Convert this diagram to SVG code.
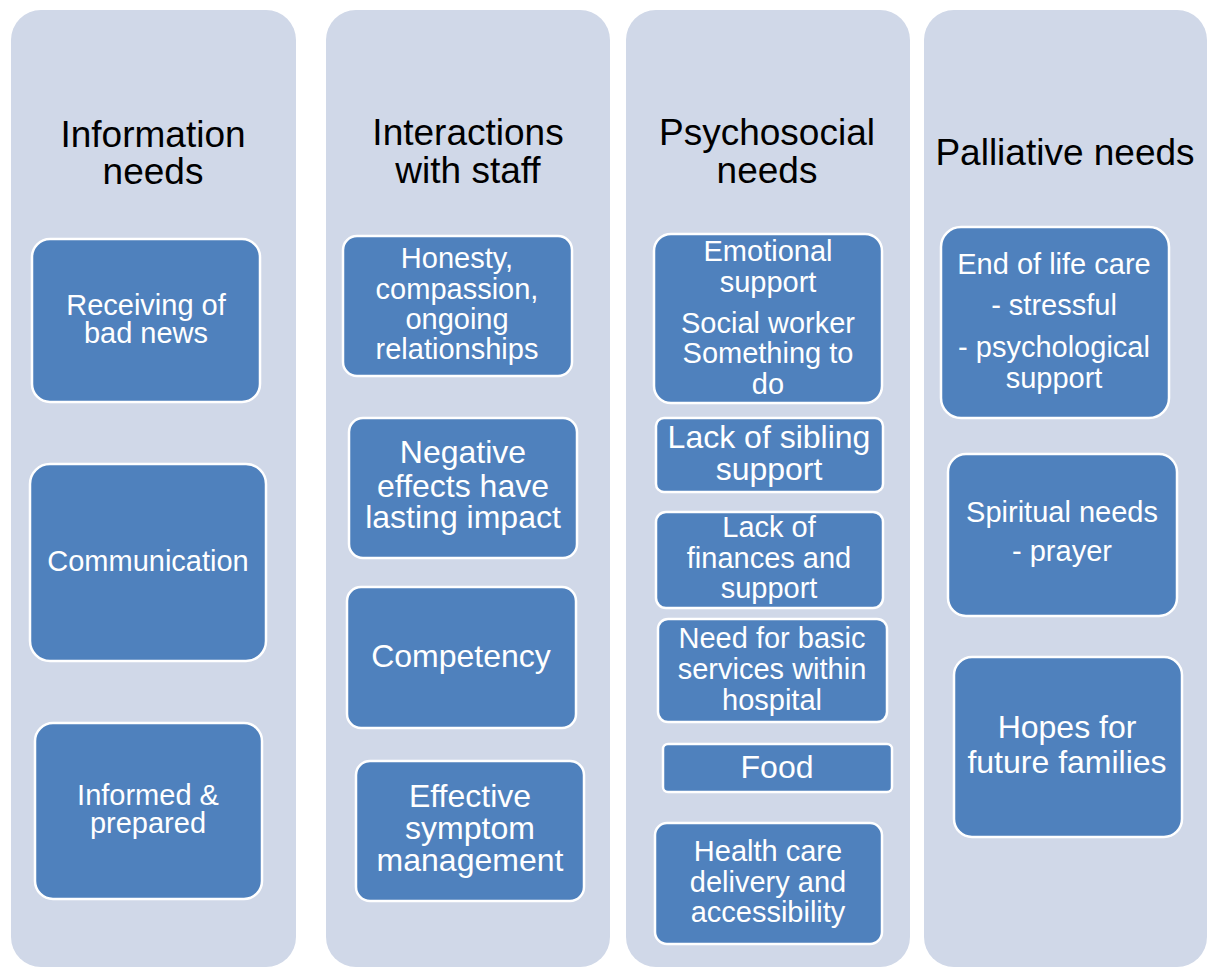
<svg xmlns="http://www.w3.org/2000/svg" width="1207" height="967" viewBox="0 0 1207 967">
<style>
.col{fill:#D0D8E8;}
.node{fill:#4F81BD;stroke:#FFFFFF;stroke-width:2.5;}
.title{font-family:"Liberation Sans",Arial,sans-serif;font-size:37px;fill:#000000;text-anchor:middle;}
.t{font-family:"Liberation Sans",Arial,sans-serif;font-size:29px;fill:#FFFFFF;text-anchor:middle;}
.tb{font-family:"Liberation Sans",Arial,sans-serif;font-size:32px;fill:#FFFFFF;text-anchor:middle;}
</style>
<rect width="1207" height="967" fill="#FFFFFF"/>
<g id="columns">
<g id="col-information">
<rect class="col" x="11" y="10" width="285" height="957" rx="30"/>
<text class="title"><tspan x="153" y="147">Information</tspan><tspan x="153" y="184">needs</tspan></text>
</g>
<g id="col-interactions">
<rect class="col" x="326" y="10" width="284" height="957" rx="30"/>
<text class="title"><tspan x="468" y="145">Interactions</tspan><tspan x="468" y="183">with staff</tspan></text>
</g>
<g id="col-psychosocial">
<rect class="col" x="626" y="10" width="284" height="957" rx="30"/>
<text class="title"><tspan x="767" y="145">Psychosocial</tspan><tspan x="767" y="183">needs</tspan></text>
</g>
<g id="col-palliative">
<rect class="col" x="924" y="10" width="283" height="957" rx="30"/>
<text class="title" x="1065" y="165">Palliative needs</text>
</g>
</g>
<g id="connectors"/>
<g id="n-receiving">
<rect class="node" x="32" y="239" width="228" height="163" rx="18"/>
<text class="t"><tspan x="146" y="315">Receiving of</tspan><tspan x="146" y="343">bad news</tspan></text>
</g>
<g id="n-communication">
<rect class="node" x="30" y="464" width="236" height="197" rx="20"/>
<text class="t" x="148" y="571">Communication</text>
</g>
<g id="n-informed">
<rect class="node" x="35" y="723" width="227" height="176" rx="18"/>
<text class="t"><tspan x="148" y="805">Informed &amp;</tspan><tspan x="148" y="833">prepared</tspan></text>
</g>
<g id="n-honesty">
<rect class="node" x="343" y="236" width="229" height="140" rx="14"/>
<text class="t"><tspan x="457" y="268">Honesty,</tspan><tspan x="457" y="299">compassion,</tspan><tspan x="457" y="329">ongoing</tspan><tspan x="457" y="359">relationships</tspan></text>
</g>
<g id="n-negative">
<rect class="node" x="349" y="418" width="228" height="140" rx="14"/>
<text class="tb"><tspan x="463" y="463">Negative</tspan><tspan x="463" y="497">effects have</tspan><tspan x="463" y="528">lasting impact</tspan></text>
</g>
<g id="n-competency">
<rect class="node" x="347" y="587" width="229" height="141" rx="14"/>
<text class="tb" x="461" y="667">Competency</text>
</g>
<g id="n-effective">
<rect class="node" x="356" y="761" width="228" height="140" rx="14"/>
<text class="tb"><tspan x="470" y="807">Effective</tspan><tspan x="470" y="839">symptom</tspan><tspan x="470" y="871">management</tspan></text>
</g>
<g id="n-emotional">
<rect class="node" x="654" y="234" width="228" height="169" rx="17"/>
<text class="t"><tspan x="768" y="261">Emotional</tspan><tspan x="768" y="292">support</tspan><tspan x="768" y="333">Social worker</tspan><tspan x="768" y="363">Something to</tspan><tspan x="768" y="394">do</tspan></text>
</g>
<g id="n-sibling">
<rect class="node" x="656" y="418" width="227" height="74" rx="8"/>
<text class="tb"><tspan x="769" y="448">Lack of sibling</tspan><tspan x="769" y="480">support</tspan></text>
</g>
<g id="n-finances">
<rect class="node" x="656" y="512" width="227" height="96" rx="10"/>
<text class="t"><tspan x="769" y="537">Lack of</tspan><tspan x="769" y="568">finances and</tspan><tspan x="769" y="598">support</tspan></text>
</g>
<g id="n-basic">
<rect class="node" x="658" y="619" width="229" height="103" rx="10"/>
<text class="t"><tspan x="772" y="648">Need for basic</tspan><tspan x="772" y="679">services within</tspan><tspan x="772" y="710">hospital</tspan></text>
</g>
<g id="n-food">
<rect class="node" x="663" y="744" width="229" height="48" rx="5"/>
<text class="tb" x="777" y="778">Food</text>
</g>
<g id="n-health">
<rect class="node" x="655" y="823" width="227" height="121" rx="12"/>
<text class="t"><tspan x="768" y="861">Health care</tspan><tspan x="768" y="892">delivery and</tspan><tspan x="768" y="922">accessibility</tspan></text>
</g>
<g id="n-endoflife">
<rect class="node" x="941" y="227" width="228" height="191" rx="20"/>
<text class="t"><tspan x="1054" y="274">End of life care</tspan><tspan x="1054" y="315">- stressful</tspan><tspan x="1054" y="357">- psychological</tspan><tspan x="1054" y="388">support</tspan></text>
</g>
<g id="n-spiritual">
<rect class="node" x="948" y="454" width="229" height="162" rx="18"/>
<text class="t"><tspan x="1062" y="522">Spiritual needs</tspan><tspan x="1062" y="561">- prayer</tspan></text>
</g>
<g id="n-hopes">
<rect class="node" x="954" y="657" width="228" height="180" rx="18"/>
<text class="tb"><tspan x="1067" y="738">Hopes for</tspan><tspan x="1067" y="773">future families</tspan></text>
</g>
</svg>
